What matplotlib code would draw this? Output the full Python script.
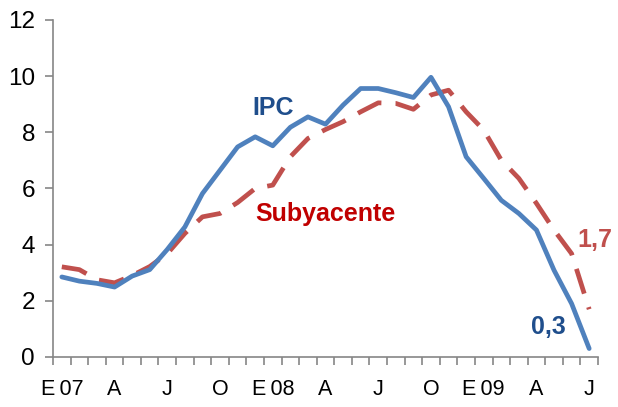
import numpy as np
import matplotlib
matplotlib.use("Agg")
import matplotlib.pyplot as plt
from matplotlib.ticker import FixedLocator

plt.rcParams['font.family'] = ['Liberation Sans', 'DejaVu Sans']

# monthly inflation, Jan 2007 - Jul 2009
ipc = [2.85, 2.70, 2.62, 2.49, 2.88, 3.11, 3.83, 4.63, 5.82, 6.65,
       7.48, 7.84, 7.52, 8.18, 8.55, 8.29, 8.97, 9.56, 9.56, 9.41,
       9.24, 9.96, 8.91, 7.13, 6.36, 5.58, 5.11, 4.52, 3.09, 1.90, 0.3]
subyacente = [3.21, 3.11, 2.75, 2.64, 2.90, 3.22, 3.68, 4.40, 4.99, 5.11,
              5.50, 6.00, 6.12, 7.13, 7.78, 8.10, 8.38, 8.73, 9.05, 9.03,
              8.82, 9.33, 9.50, 8.73, 8.08, 7.01, 6.36, 5.47, 4.52, 3.68, 1.7]
tick_labels = ['E\u200907', 'A', 'J', 'O', 'E\u200908', 'A', 'J', 'O',
               'E\u200909', 'A', 'J']

x = np.arange(len(ipc))

fig = plt.figure(figsize=(6.18, 4.07), dpi=100)
ax = fig.add_axes([0.0858, 0.1229, 0.8818, 0.828])

ax.plot(x, subyacente, color='#C0504D', lw=3.4, dashes=(5.5, 3.0))
ax.plot(x, ipc, color='#4F81BD', lw=3.4, solid_capstyle='round')

ax.set_xlim(-0.5, len(ipc) - 0.5)
ax.set_ylim(0, 12)
ax.set_yticks(range(0, 13, 2))

ax.xaxis.set_major_locator(FixedLocator(x[::3]))
ax.set_xticklabels(tick_labels)
ax.xaxis.set_minor_locator(FixedLocator(np.arange(-0.5, len(ipc), 1)))
ax.tick_params(axis='x', which='major', length=0, pad=16, labelsize=15.5)
ax.tick_params(axis='x', which='minor', length=6, width=1.2,
               color='#868686', direction='out')
ax.tick_params(axis='y', length=6, width=1.2, color='#868686',
               labelsize=17.5, pad=7)

for side in ['top', 'right']:
    ax.spines[side].set_visible(False)
for side in ['left', 'bottom']:
    ax.spines[side].set_color('#868686')
    ax.spines[side].set_linewidth(1.2)

ax.text(12.0, 8.86, 'IPC', color='#1F4E8C', fontsize=18,
        fontweight='bold', ha='center', va='center')
ax.text(15.0, 5.09, 'Subyacente', color='#C00000', fontsize=18,
        fontweight='bold', ha='center', va='center')
ax.text(30.35, 4.16, '1,7', color='#C0504D', fontsize=18,
        fontweight='bold', ha='center', va='center', clip_on=False)
ax.text(27.68, 1.06, '0,3', color='#1F4E8C', fontsize=18,
        fontweight='bold', ha='center', va='center')

fig.savefig('out.png', dpi=100)
